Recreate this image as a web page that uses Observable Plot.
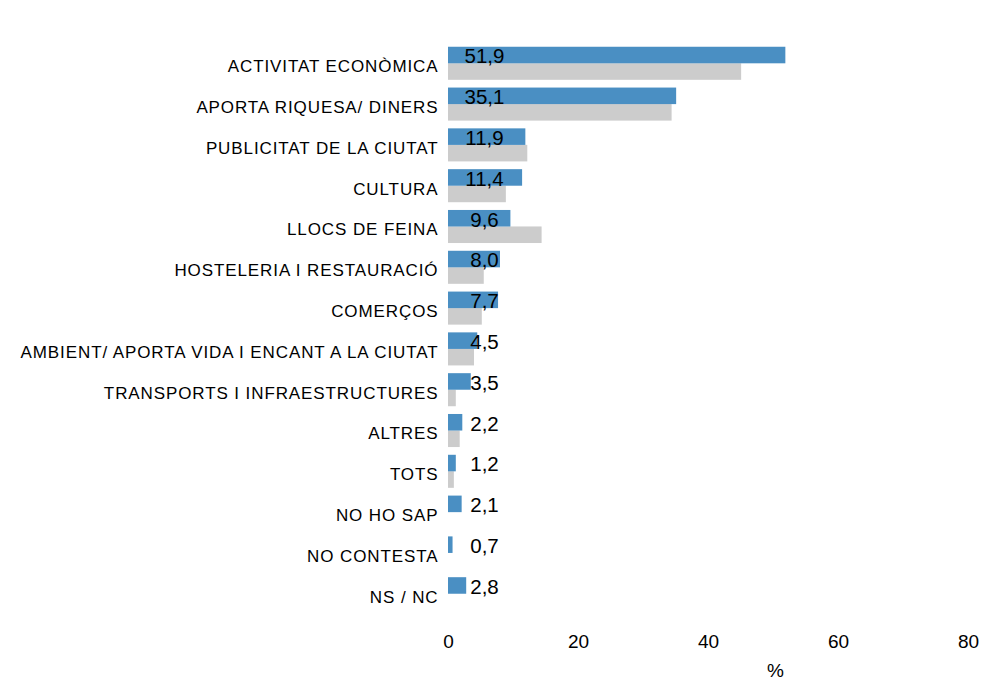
<!DOCTYPE html>
<html>
<head>
<meta charset="utf-8">
<script src="https://cdn.jsdelivr.net/npm/d3@7"></script>
<script src="https://cdn.jsdelivr.net/npm/@observablehq/plot@0.6"></script>
<style>
  html, body { margin: 0; padding: 0; background: #fff; }
  #chart svg { display: block; font-family: "Liberation Sans", Arial, sans-serif; }
  #chart g[aria-label="y-axis tick label"] text { letter-spacing: 0.9px; }
</style>
</head>
<body>
<div id="chart"></div>
<script>
const categories = [
  "ACTIVITAT ECONÒMICA",
  "APORTA RIQUESA/ DINERS",
  "PUBLICITAT DE LA CIUTAT",
  "CULTURA",
  "LLOCS DE FEINA",
  "HOSTELERIA I RESTAURACIÓ",
  "COMERÇOS",
  "AMBIENT/ APORTA VIDA I ENCANT A LA CIUTAT",
  "TRANSPORTS I INFRAESTRUCTURES",
  "ALTRES",
  "TOTS",
  "NO HO SAP",
  "NO CONTESTA",
  "NS / NC"
];
const current = [51.9, 35.1, 11.9, 11.4, 9.6, 8.0, 7.7, 4.5, 3.5, 2.2, 1.2, 2.1, 0.7, 2.8];
const previous = [45.1, 34.4, 12.2, 8.9, 14.4, 5.5, 5.2, 4.0, 1.2, 1.8, 0.9, null, null, null];
const xTicks = [0, 20, 40, 60, 80];
const axisLabel = "%";

const rows = categories.map((c, i) => ({cat: c, cur: current[i], prev: previous[i]}));
const fmt = v => d3.format(".1f")(v).replace(".", ",");

const chart = Plot.plot({
  width: 985,
  height: 683,
  marginLeft: 448,
  marginRight: 17,
  marginTop: 39,
  marginBottom: 65,
  style: {fontFamily: "'Liberation Sans', Arial, sans-serif"},
  x: {domain: [0, 80], ticks: xTicks, label: null},
  y: {domain: categories, padding: 0.19, round: false, label: null},
  marks: [
    Plot.barX(rows.filter(d => d.prev != null), {
      x: "prev", y: "cat", fill: "#cccccc", insetTop: 16.5, insetBottom: 0
    }),
    Plot.barX(rows, {
      x: "cur", y: "cat", fill: "#4a8fc3", insetBottom: 16.5, insetTop: 0
    }),
    Plot.text(rows, {
      y: "cat", text: d => fmt(d.cur), frameAnchor: "left", textAnchor: "middle",
      dx: 36, dy: -7, fontSize: 20.5, fill: "#000"
    }),
    Plot.axisY({tickSize: 0, tickPadding: 10, fontSize: 17, dy: 3, label: null}),
    Plot.axisX({ticks: xTicks, tickSize: 0, tickPadding: 16, fontSize: 19, label: null, tickFormat: d => String(d)}),
    Plot.text([axisLabel], {frameAnchor: "bottom", text: d => d, dx: 67, dy: 58, fontSize: 19, fill: "#000"})
  ]
});
document.getElementById("chart").appendChild(chart);
</script>
</body>
</html>
